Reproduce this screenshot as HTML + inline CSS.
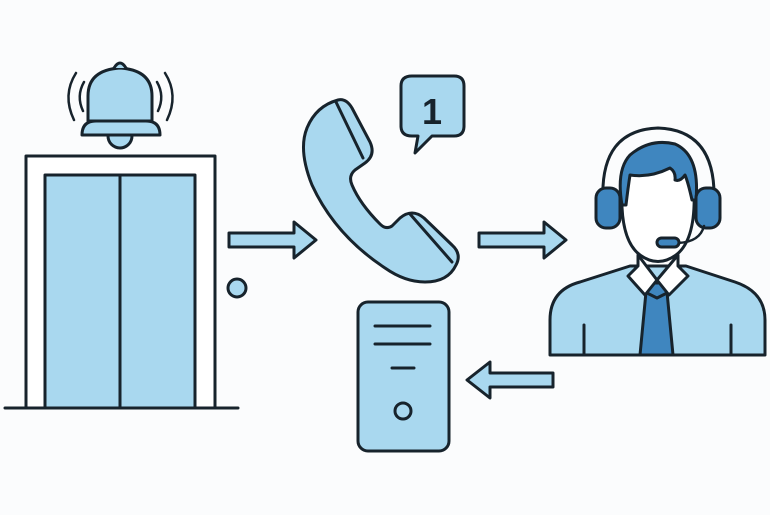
<!DOCTYPE html>
<html><head><meta charset="utf-8"><style>
html,body{margin:0;padding:0;background:#fbfcfd;}
svg{display:block}
</style></head><body>
<svg width="770" height="515" viewBox="0 0 770 515" xmlns="http://www.w3.org/2000/svg">
<rect width="770" height="515" fill="#fbfcfd"/>
<g stroke="#17232c" stroke-width="3" stroke-linejoin="round" stroke-linecap="round" fill="#a9d8ef">
<!-- elevator -->
<rect x="26" y="156" width="189" height="252" fill="#fff"/>
<rect x="45" y="175" width="150" height="233"/>
<line x1="120" y1="175" x2="120" y2="408"/>
<line x1="5" y1="408" x2="238" y2="408"/>
<circle cx="237" cy="288" r="9"/>
<!-- bell -->
<circle cx="120" cy="136" r="12"/>
<path d="M88 121 L88 96 Q88 70 120 68 Q152 70 152 96 L152 121 Z"/>
<path d="M114 68 Q120 58 126 68"/>
<path d="M82 135 Q82 121 96 121 L146 121 Q160 121 160 135 Z"/>
<g fill="none" stroke-width="2.5">
<path d="M76 73 Q62 95 74 120"/><path d="M84 82 Q76 96 83 111"/>
<path d="M165 73 Q179 95 167 120"/><path d="M157 82 Q165 96 158 111"/>
</g>
<!-- arrows -->
<path d="M229 233 L294 233 L294 222 L316 240 L294 258 L294 247 L229 247 Z"/>
<path d="M479 233 L544 233 L544 222 L566 240 L544 258 L544 247 L479 247 Z"/>
<path d="M553 373 L490 373 L490 362 L467 380 L490 398 L490 387 L553 387 Z"/>
<!-- phone -->
<path d="M338 100 Q316 106 307 128 Q298 150 312 185 Q335 235 385 268 Q405 282 425 282 Q448 282 456 265 Q462 254 452 245 L424 218 Q412 208 400 218 L392 226 Q386 230 380 224 Q360 204 352 185 Q348 176 355 170 L365 163 Q376 155 370 142 L352 108 Q346 98 338 100 Z"/>
<line x1="336" y1="102" x2="363" y2="158"/>
<line x1="410" y1="214" x2="452" y2="262"/>
<!-- bubble -->
<path d="M412 76 L454 76 Q464 76 464 86 L464 126 Q464 136 454 136 L432 136 L415 153 L418 136 L412 136 Q401 136 401 126 L401 86 Q401 76 412 76 Z"/>
<!-- server -->
<rect x="358" y="302" width="91" height="149" rx="10"/>
<line x1="375" y1="326" x2="430" y2="326"/>
<line x1="375" y1="344" x2="430" y2="344"/>
<line x1="392" y1="368" x2="414" y2="368"/>
<circle cx="403" cy="411" r="8"/>
<!-- person body -->
<path d="M550 355 L550 320 Q550 290 580 282 L630 266 L686 266 L735 282 Q765 292 765 320 L765 355 Z"/>
<line x1="584" y1="325" x2="584" y2="355"/>
<line x1="731" y1="325" x2="731" y2="355"/>
<path d="M646 292 L640 355 L673 355 L667 292 Z" fill="#3f86bf"/>
<path d="M647 283 L667 283 L669 292 L657 298 L645 292 Z" fill="#3f86bf"/>
<path d="M638 255 L638 266 L628 276 L645 295 L657 280 Z" fill="#fff"/>
<path d="M678 255 L678 266 L688 276 L669 295 L657 280 Z" fill="#fff"/>
<!-- headband -->
<path d="M603 200 Q600 130 658 128 Q716 130 714 200" fill="none"/>
<!-- face -->
<path d="M622 190 Q620 240 640 255 Q658 268 676 255 Q696 240 694 190 Q694 150 658 150 Q622 150 622 190 Z" fill="#fff"/>
<!-- hair -->
<path d="M622 205 Q616 170 630 155 Q650 138 675 144 Q700 155 696 200 L692 200 Q688 182 685 175 Q680 182 675 180 Q676 172 670 168 Q650 178 630 175 Q628 188 626 205 Z" fill="#3f86bf"/>
<rect x="596" y="188" width="24" height="40" rx="10" fill="#3f86bf"/>
<rect x="696" y="188" width="24" height="40" rx="10" fill="#3f86bf"/>
<path d="M704 226 Q700 242 678 243" fill="none" stroke-width="2.5"/>
<rect x="657" y="238" width="22" height="9" rx="4.5" fill="#3f86bf"/>
</g>
<text x="432" y="124" font-family="Liberation Sans, sans-serif" font-weight="bold" font-size="36" fill="#17232c" text-anchor="middle">1</text>
</svg>
</body></html>
